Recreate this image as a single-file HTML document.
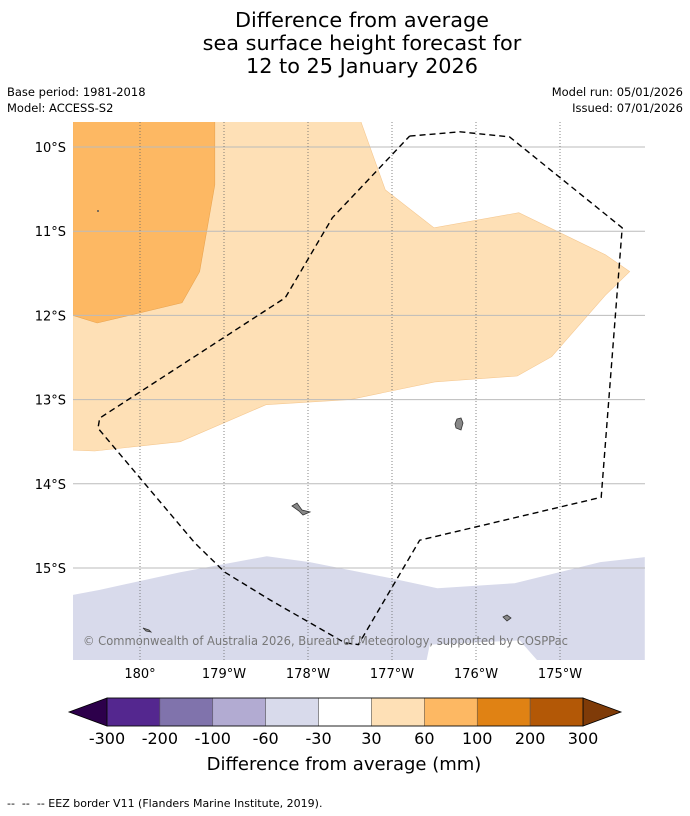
<!DOCTYPE html>
<html><head><meta charset="utf-8">
<style>
body{margin:0;background:#fff;font-family:"DejaVu Sans","Liberation Sans",sans-serif;}
svg{display:block}
</style></head>
<body>
<svg width="690" height="816" viewBox="0 0 690 816" font-family="DejaVu Sans, Liberation Sans, sans-serif">
<text x="362" y="27" text-anchor="middle" font-size="20.8">Difference from average</text>
<text x="362" y="50" text-anchor="middle" font-size="20.8">sea surface height forecast for</text>
<text x="362" y="73" text-anchor="middle" font-size="20.8">12 to 25 January 2026</text>
<text x="7" y="96" font-size="11.5">Base period: 1981-2018</text>
<text x="7" y="112" font-size="11.5">Model: ACCESS-S2</text>
<text x="683" y="96" font-size="11.5" text-anchor="end">Model run: 05/01/2026</text>
<text x="683" y="112" font-size="11.5" text-anchor="end">Issued: 07/01/2026</text>
<defs><clipPath id="mc"><rect x="73" y="122" width="572" height="538"/></clipPath></defs>
<g id="map" clip-path="url(#mc)"></g>
<g id="axes"></g>
<g id="cbar"></g>
<text x="344" y="770" text-anchor="middle" font-size="18">Difference from average (mm)</text>
<text x="7" y="807" font-size="11" xml:space="preserve">--  --  -- EEZ border V11 (Flanders Marine Institute, 2019).</text>
</svg>
<script>
// longitude offsets east of 180 (deg), latitudes in deg south
const lonTicks=[0,1,2,3,4,5];
const lonLabels=["180°","179°W","178°W","177°W","176°W","175°W"];
const latTicks=[10,11,12,13,14,15];
const latLabels=["10°S","11°S","12°S","13°S","14°S","15°S"];
const orangeLight=[[-0.8,9.7],[2.63,9.7],[2.92,10.51],[3.5,10.96],[4.51,10.78],[5.54,11.28],[5.83,11.48],[5.54,11.76],[4.9,12.49],[4.49,12.72],[3.51,12.79],[2.5,13.0],[1.5,13.06],[0.48,13.5],[-0.54,13.61],[-0.8,13.6]];
const orangeMid=[[-0.8,9.7],[0.89,9.7],[0.89,10.45],[0.71,11.48],[0.5,11.85],[-0.51,12.09],[-0.8,12.0]];
const lavender=[[-0.8,15.32],[-0.48,15.26],[0.48,15.05],[1.51,14.86],[2.02,14.93],[2.98,15.12],[3.54,15.24],[4.46,15.18],[5.48,14.93],[6.01,14.87],[6.01,16.2],[4.82,16.2],[4.52,15.86],[3.45,15.91],[3.39,16.2],[-0.8,16.2]];
const eez=[[3.21,9.87],[3.81,9.82],[4.4,9.88],[5.74,10.96],[5.49,14.16],[3.33,14.67],[2.6,15.91],[2.44,15.89],[1.55,15.38],[1.01,15.05],[0.65,14.7],[-0.5,13.34],[-0.48,13.22],[1.73,11.79],[2.29,10.84],[3.21,9.87]];
const colorBounds=["-300","-200","-100","-60","-30","30","60","100","200","300"];
const colorFills=["#54278f","#8073ac","#b2abd2","#d8daeb","#ffffff","#fee0b6","#fdb863","#e08214","#b35806"];
const NS="http://www.w3.org/2000/svg";
const X=l=>140+l*84, Y=t=>147+(t-10)*84.2;
const map=document.getElementById('map'),axes=document.getElementById('axes'),cb=document.getElementById('cbar');
function mk(tag,at,parent){const e=document.createElementNS(NS,tag);for(const k in at)e.setAttribute(k,at[k]);parent.appendChild(e);return e;}
const pts=a=>a.map(p=>X(p[0]).toFixed(1)+","+Y(p[1]).toFixed(1)).join(" ");
let e;
e=mk('polygon',{points:pts(orangeLight),fill:'#fee0b6',stroke:'#f5c891','stroke-width':0.6},map);


e=mk('polygon',{points:pts(orangeMid),fill:'#fdb863',stroke:'#e9a450','stroke-width':0.6},map);


e=mk('polygon',{points:pts(lavender),fill:'#d8daeb'},map);


latTicks.forEach((t,i)=>{
 e=mk('line',{x1:73,x2:645,y1:Y(t),y2:Y(t),stroke:'#bbb','stroke-width':1},map);
 
 
 e=mk('text',{x:66,y:Y(t)+5,'text-anchor':'end','font-size':13},axes);e.textContent=latLabels[i];
 
 
});
lonTicks.forEach((l,i)=>{
 e=mk('line',{x1:X(l),x2:X(l),y1:122,y2:660,stroke:'#666','stroke-width':0.8,'stroke-dasharray':'1,2'},map);
 
 
 e=mk('text',{x:X(l),y:678,'text-anchor':'middle','font-size':13},axes);e.textContent=lonLabels[i];
 
 
});
e=mk('polyline',{points:pts(eez),fill:'none',stroke:'#000','stroke-width':1.4,'stroke-dasharray':'6,4'},map);


[[[457,419],[461,418],[463,423],[461,430],[456,428],[455,424]],[[292,506],[297,503],[302,510],[310,512],[303,515],[299,511]],[[503,617],[507,615],[511,618],[507,621]],[[143,628],[149,630],[151,632],[146,631]]].forEach(p=>{
 e=mk('polygon',{points:p.map(q=>q.join(',')).join(' '),fill:'#888',stroke:'#333','stroke-width':0.8},map);
 
 
});
e=mk('circle',{cx:98,cy:211,r:1,fill:'#555'},map);


e=mk('text',{x:83,y:645,'font-size':12,fill:'#777',textLength:485,lengthAdjust:'spacingAndGlyphs'},map);e.textContent="© Commonwealth of Australia 2026, Bureau of Meteorology, supported by COSPPac";


// colorbar
const cx0=107,cw=(583-107)/colorFills.length,cy0=698,ch=28;
e=mk('polygon',{points:`${cx0},${cy0} 69,${cy0+ch/2} ${cx0},${cy0+ch}`,fill:'#2d004b',stroke:'#000','stroke-width':0.8},cb);


e=mk('polygon',{points:`583,${cy0} 621,${cy0+ch/2} 583,${cy0+ch}`,fill:'#7f3b08',stroke:'#000','stroke-width':0.8},cb);


colorFills.forEach((c,i)=>{
 e=mk('rect',{x:cx0+i*cw,y:cy0,width:cw,height:ch,fill:c,stroke:'#555','stroke-width':0.5},cb);
 
 
});
mk('rect',{x:cx0,y:cy0,width:583-cx0,height:ch,fill:'none',stroke:'#000','stroke-width':0.8},cb);
colorBounds.forEach((b,i)=>{
 e=mk('text',{x:cx0+i*cw,y:744,'text-anchor':'middle','font-size':16},cb);e.textContent=b;
 
 
});
</script>
</body></html>
